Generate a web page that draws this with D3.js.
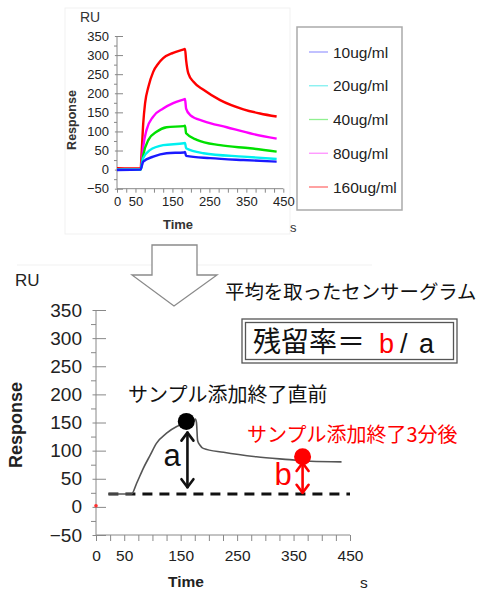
<!DOCTYPE html>
<html>
<head>
<meta charset="utf-8">
<script src="https://cdn.jsdelivr.net/npm/d3@7"></script>
<style>
  body { margin: 0; background: #fff; }
  text { font-family: "Liberation Sans", Arial, sans-serif; }
  .jp { font-family: "Noto Sans CJK JP", sans-serif; }
</style>
</head>
<body>
<svg id="chart" width="479" height="592"></svg>
<script>
// tick labels
var timeLabels = [0, 50, 150, 250, 350, 450];
var timeTicks = d3.range(0, 451, 25);
var respTicks = [-50, 0, 50, 100, 150, 200, 250, 300, 350];
var respMinor = [-25, 25, 75, 125, 175, 225, 275, 325];

// legend
var concLabels = ["10ug/ml", "20ug/ml", "40ug/ml", "80ug/ml", "160ug/ml"];
var lineColors = ["#1a1aff", "#00f0f0", "#00e000", "#ff00ff", "#ff0000"];
var legendColors = ["#a0a0ff", "#80f0f0", "#90f090", "#ff90ff", "#ff7070"];

// sensorgrams [time s, RU]
var conc10 = [[0,-1],[64,0],[67,9],[71,21],[98,34],[134,43],[181,45],[184,46],[187,36],[252,30],[342,25],[432,21]];
var conc20 = [[0,0],[64,0],[67,12],[71,30],[89,51],[125,64],[181,69],[184,70],[187,56],[234,43],[342,34],[432,28]];
var conc40 = [[0,0],[64,0],[67,15],[71,38],[85,78],[107,99],[134,111],[181,114],[184,115],[187,95],[216,78],[279,64],[360,56],[432,47]];
var conc80 = [[0,1],[64,1],[67,20],[71,60],[80,104],[98,139],[125,160],[152,174],[181,184],[184,185],[187,160],[198,143],[234,127],[297,111],[369,93],[432,81]];
var conc160 = [[0,4],[64,3],[67,51],[71,121],[76,174],[85,217],[98,256],[112,278],[125,292],[152,306],[181,315],[184,316],[187,287],[193,252],[207,230],[234,209],[279,182],[342,158],[387,147],[432,139]];

// averaged sensorgram
var averaged = [[22,23],[63,23],[72,42],[84,69],[96,92],[107,113],[125,131],[143,143],[161,149],[172,151],[176,156],[178,150],[180,118],[184,110],[190,104],[226,97],[284,89],[343,84],[380,81],[435,80]];
var baselineRU = 23;
var peakPoint = [160, 152];
var afterPoint = [366, 89];

var svg = d3.select("#chart");

// faint panel frames
svg.append("rect").attr("x", 65).attr("y", 8).attr("width", 225).attr("height", 226)
  .attr("fill", "none").attr("stroke", "#f1f1f1");
svg.append("line").attr("x1", 17).attr("x2", 372).attr("y1", 265).attr("y2", 265).attr("stroke", "#f1f1f1");

function drawAxes(x, y, opt) {
  var g = svg.append("g");
  // y axis
  var ya = g.append("g").attr("transform", "translate(" + x(0) + ",0)")
    .call(d3.axisLeft(y).tickValues(respTicks).tickSize(opt.major).tickPadding(opt.pad));
  ya.select(".domain").attr("stroke", "#888").attr("d", "M0," + y(350) + "V" + y(-50));
  ya.selectAll(".tick line").attr("stroke", "#888").attr("x2", opt.major).attr("x1", -opt.major * 0.35);
  ya.selectAll(".tick text").attr("fill", "#222").style("font-size", opt.fs + "px");
  var ym = g.append("g").attr("transform", "translate(" + x(0) + ",0)")
    .call(d3.axisLeft(y).tickValues(respMinor).tickSize(opt.minor).tickFormat(""));
  ym.select(".domain").remove();
  ym.selectAll(".tick line").attr("stroke", "#888");
  // x axis
  var xa = g.append("g").attr("transform", "translate(0," + y(-50) + ")")
    .call(d3.axisBottom(x).tickValues(timeTicks).tickSize(opt.minor + 1).tickPadding(opt.xpad)
      .tickFormat(function(d) { return timeLabels.indexOf(d) >= 0 ? d : ""; }));
  xa.select(".domain").attr("stroke", "#888").attr("d", "M" + x(0) + ",0H" + x(450));
  xa.selectAll(".tick line").attr("stroke", "#888");
  xa.selectAll(".tick text").attr("fill", "#222").style("font-size", opt.xfs + "px");
}

// ---------- top chart ----------
var xTop = d3.scaleLinear().domain([0, 450]).range([117, 283.3]);
var yTop = d3.scaleLinear().domain([-50, 350]).range([188.7, 36]);
drawAxes(xTop, yTop, { major: 6, minor: 3, pad: 2, xpad: 4, fs: 13, xfs: 13 });

var lineTop = d3.line().x(d => xTop(d[0])).y(d => yTop(d[1])).curve(d3.curveMonotoneX);
[conc160, conc80, conc40, conc20, conc10].forEach(function(s, i) {
  svg.append("path").datum(s).attr("d", lineTop)
    .attr("fill", "none").attr("stroke", lineColors[4 - i]).attr("stroke-width", 2.4);
});

svg.append("text").attr("x", 80).attr("y", 22).attr("fill", "#333").style("font-size", "14px").text("RU");
svg.append("text").attr("transform", "translate(76,120) rotate(-90)").attr("text-anchor", "middle")
  .attr("fill", "#333").style("font-size", "12.5px").style("font-weight", "bold").text("Response");
svg.append("text").attr("x", 178).attr("y", 229).attr("text-anchor", "middle")
  .attr("fill", "#333").style("font-size", "13px").style("font-weight", "bold").text("Time");
svg.append("text").attr("x", 290).attr("y", 232).attr("fill", "#333").style("font-size", "13px").text("s");

// legend
var leg = svg.append("g");
leg.append("rect").attr("x", 297).attr("y", 27).attr("width", 105).attr("height", 183)
  .attr("fill", "#fff").attr("stroke", "#aaa").attr("stroke-width", 1.5);
var legY = d3.scalePoint().domain(concLabels).range([52, 187]);
concLabels.forEach(function(c, i) {
  leg.append("line").attr("x1", 309).attr("x2", 328).attr("y1", legY(c)).attr("y2", legY(c))
    .attr("stroke", legendColors[i]).attr("stroke-width", 1.3);
  leg.append("text").attr("x", 333).attr("y", legY(c)).attr("dy", "0.36em")
    .attr("fill", "#222").style("font-size", "15.5px").text(c);
});

// ---------- down arrow ----------
svg.append("polygon")
  .attr("points", "152,245 197,245 197,275 217,275 174,306 132,275 152,275")
  .attr("fill", "#fff").attr("stroke", "#8a8a8a").attr("stroke-width", 1.3);

svg.append("text").attr("class", "jp").attr("x", 225).attr("y", 292).attr("dy", "0.35em")
  .attr("fill", "#111").style("font-size", "19.4px").text("平均を取ったセンサーグラム");

// formula box
svg.append("rect").attr("x", 242).attr("y", 319).attr("width", 215).attr("height", 44)
  .attr("fill", "#fff").attr("stroke", "#555").attr("stroke-width", 1.3);
svg.append("rect").attr("x", 245.5).attr("y", 322.5).attr("width", 208).attr("height", 37)
  .attr("fill", "none").attr("stroke", "#555").attr("stroke-width", 1.3);
svg.append("text").attr("class", "jp").attr("x", 253).attr("y", 342).attr("dy", "0.35em")
  .attr("fill", "#111").style("font-size", "28px").text("残留率＝");
svg.append("text").attr("x", 379).attr("y", 343).attr("dy", "0.36em")
  .attr("fill", "#ff0000").style("font-size", "27px").text("b");
svg.append("text").attr("x", 400).attr("y", 343).attr("dy", "0.36em")
  .attr("fill", "#111").style("font-size", "27px").text("/");
svg.append("text").attr("x", 419).attr("y", 343).attr("dy", "0.36em")
  .attr("fill", "#111").style("font-size", "27px").text("a");

// ---------- bottom chart ----------
var xBot = d3.scaleLinear().domain([0, 450]).range([96, 350]);
var yBot = d3.scaleLinear().domain([-50, 350]).range([535, 310]);
drawAxes(xBot, yBot, { major: 10, minor: 5, pad: 4, xpad: 9, fs: 19, xfs: 15.5 });

svg.append("text").attr("x", 15).attr("y", 280).attr("dy", "0.35em").attr("fill", "#222")
  .style("font-size", "17px").text("RU");
svg.append("text").attr("transform", "translate(22,425) rotate(-90)").attr("text-anchor", "middle")
  .attr("fill", "#222").style("font-size", "18px").style("font-weight", "bold").text("Response");
svg.append("text").attr("x", 186).attr("y", 582).attr("dy", "0.35em").attr("text-anchor", "middle")
  .attr("fill", "#222").style("font-size", "15.5px").style("font-weight", "bold").text("Time");
svg.append("text").attr("x", 360).attr("y", 583).attr("dy", "0.35em")
  .attr("fill", "#222").style("font-size", "15.5px").text("s");

svg.append("circle").attr("cx", xBot(0)).attr("cy", yBot(2)).attr("r", 1.8).attr("fill", "#ff3030");

// baseline dashed
svg.append("line").attr("x1", xBot(22)).attr("x2", xBot(450))
  .attr("y1", yBot(baselineRU)).attr("y2", yBot(baselineRU))
  .attr("stroke", "#111").attr("stroke-width", 3).attr("stroke-dasharray", "10,7");

var lineBot = d3.line().x(d => xBot(d[0])).y(d => yBot(d[1])).curve(d3.curveMonotoneX);
svg.append("path").datum(averaged).attr("d", lineBot)
  .attr("fill", "none").attr("stroke", "#555").attr("stroke-width", 1.6);

// double headed arrows
function vArrow(t, v0, v1, color) {
  var x = xBot(t), ya = yBot(v0), yb = yBot(v1), h = 8;
  var g = svg.append("g").attr("fill", "none").attr("stroke", color).attr("stroke-width", 2.6)
    .attr("stroke-linecap", "round").attr("stroke-linejoin", "round");
  g.append("line").attr("x1", x).attr("x2", x).attr("y1", ya).attr("y2", yb);
  g.append("path").attr("d", "M" + (x - 6) + "," + (ya + h) + "L" + x + "," + ya + "L" + (x + 6) + "," + (ya + h));
  g.append("path").attr("d", "M" + (x - 6) + "," + (yb - h) + "L" + x + "," + yb + "L" + (x + 6) + "," + (yb - h));
}
vArrow(peakPoint[0] + 2, 132, baselineRU + 12, "#111");
vArrow(afterPoint[0], 78, baselineRU + 2, "#ff0000");

svg.append("circle").attr("cx", xBot(peakPoint[0])).attr("cy", yBot(peakPoint[1])).attr("r", 8.5).attr("fill", "#000");
svg.append("circle").attr("cx", xBot(afterPoint[0])).attr("cy", yBot(afterPoint[1])).attr("r", 8.5).attr("fill", "#ff0000");

svg.append("text").attr("x", 172).attr("y", 455).attr("dy", "0.35em").attr("text-anchor", "middle")
  .attr("fill", "#111").style("font-size", "31px").text("a");
svg.append("text").attr("x", 283).attr("y", 474).attr("dy", "0.36em").attr("text-anchor", "middle")
  .attr("fill", "#ff0000").style("font-size", "31px").text("b");

svg.append("text").attr("class", "jp").attr("x", 128).attr("y", 395).attr("dy", "0.35em")
  .attr("fill", "#111").style("font-size", "20px").text("サンプル添加終了直前");
svg.append("text").attr("class", "jp").attr("x", 247).attr("y", 435).attr("dy", "0.35em")
  .attr("fill", "#ff0000").style("font-size", "20px").text("サンプル添加終了3分後");
</script>
</body>
</html>
